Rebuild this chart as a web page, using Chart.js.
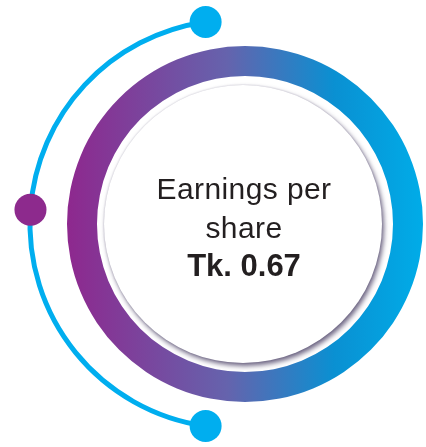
<!DOCTYPE html>
<html>
<head>
<meta charset="utf-8">
<script src="https://cdn.jsdelivr.net/npm/chart.js@4.4.1/dist/chart.umd.min.js"></script>
<style>
  html, body { margin: 0; padding: 0; width: 426px; height: 447px; overflow: hidden; background: #fff; }
  #arcChart { position: absolute; left: 14px; top: 4px; }
  #ringChart { position: absolute; left: 65px; top: 44px; }
  #disk {
    position: absolute; left: 104px; top: 85px; width: 278px; height: 278px;
    border-radius: 50%; background: #fff;
    box-shadow: 2px 3px 5px rgba(60, 50, 90, 0.75), 0 0 2px rgba(60, 50, 90, 0.25);
  }
  #label {
    position: absolute; left: 104px; top: 170px; width: 280px; text-align: center;
    color: #231f20; font-family: "Liberation Sans", Arial, sans-serif;
  }
  #label div { line-height: 38.5px; white-space: nowrap; }
  .title { font-size: 30px; letter-spacing: 0.4px; }
  .value { font-size: 31px; font-weight: bold; }
</style>
</head>
<body>
<canvas id="arcChart" width="440" height="440"></canvas>
<canvas id="ringChart" width="360" height="360"></canvas>
<div id="disk"></div>
<div id="label"></div>

<script>
// data (angles in degrees, clockwise from the bottom dot)
const arcLabels = ['lower', 'upper', 'gap'];
const arcSegments = [86, 78, 196];
const ringLabels = ['EPS'];
const ringValues = [1];
const titleLines = ['Earnings per', 'share'];
const valueText = 'Tk. 0.67';

const blue = '#00aeef';
const purple = '#8d2a8d';
const dotColors = [blue, purple, blue];
const ringStops = ['#8e288e', '#6563ad', '#0a90d2', '#00ace8'];

// text in the middle
const label = document.getElementById('label');
titleLines.forEach(t => {
  const d = document.createElement('div');
  d.className = 'title';
  d.textContent = t;
  label.appendChild(d);
});
const v = document.createElement('div');
v.className = 'value';
v.textContent = valueText;
label.appendChild(v);

// dots on the ends of the thin arc segments
const arcDots = {
  id: 'arcDots',
  afterDatasetsDraw(chart) {
    const arcs = chart.getDatasetMeta(0).data;
    const ctx = chart.ctx;
    const r = (arcs[0].innerRadius + arcs[0].outerRadius) / 2;
    const spots = [arcs[0].startAngle, arcs[0].endAngle, arcs[1].endAngle];
    ctx.save();
    spots.forEach((a, i) => {
      ctx.beginPath();
      ctx.arc(arcs[0].x + Math.cos(a) * r, arcs[0].y + Math.sin(a) * r, 16, 0, Math.PI * 2);
      ctx.fillStyle = dotColors[i];
      ctx.fill();
    });
    ctx.restore();
  }
};

new Chart(document.getElementById('arcChart'), {
  type: 'doughnut',
  data: {
    labels: arcLabels,
    datasets: [{
      data: arcSegments,
      backgroundColor: [blue, blue, 'rgba(0,0,0,0)'],
      borderWidth: 0
    }]
  },
  options: {
    responsive: false,
    animation: false,
    events: [],
    rotation: 188,
    cutout: '97.6%',
    layout: { padding: 13.5 },
    plugins: { legend: { display: false }, tooltip: { enabled: false } }
  },
  plugins: [arcDots]
});

new Chart(document.getElementById('ringChart'), {
  type: 'doughnut',
  data: {
    labels: ringLabels,
    datasets: [{
      data: ringValues,
      borderWidth: 0,
      backgroundColor(context) {
        const { ctx, chartArea } = context.chart;
        if (!chartArea) return ringStops[0];
        const g = ctx.createLinearGradient(chartArea.left, 0, chartArea.right, 0);
        g.addColorStop(0, ringStops[0]);
        g.addColorStop(0.45, ringStops[1]);
        g.addColorStop(0.75, ringStops[2]);
        g.addColorStop(1, ringStops[3]);
        return g;
      }
    }]
  },
  options: {
    responsive: false,
    animation: false,
    events: [],
    cutout: '83.15%',
    layout: { padding: 2 },
    plugins: { legend: { display: false }, tooltip: { enabled: false } }
  }
});
</script>
</body>
</html>
